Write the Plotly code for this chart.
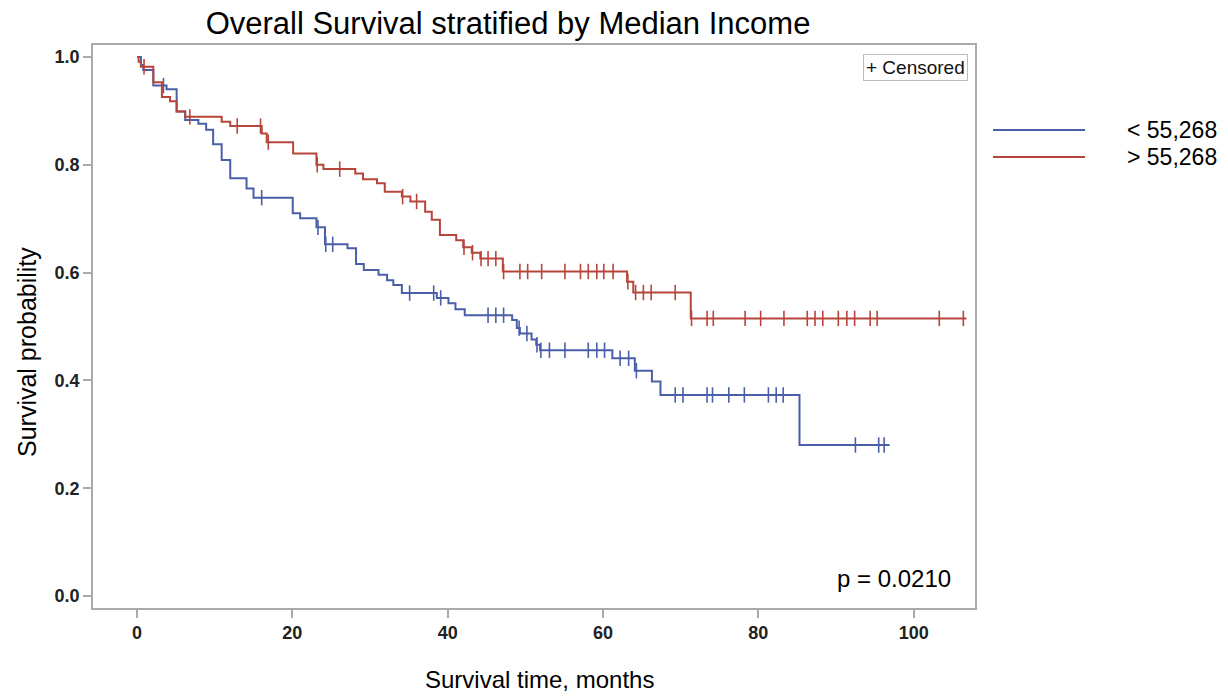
import numpy as np
import plotly.graph_objects as go

# ---- data ----
low_times = [0, 0.5, 0.8, 2.1, 3.8, 5.1, 6.2, 7.9, 8.9, 9.8, 10.9, 12.0, 14.1, 15.0,
             20.05, 21.0, 23.1, 24.2, 27.1, 28.2, 29.2, 31.1, 32.2, 33.0, 34.1, 38.6,
             40.1, 41.0, 42.2, 48.3, 48.9, 49.3, 50.8, 51.4, 51.9, 61.2, 64.1, 66.3,
             67.4, 85.3]
low_surv = [1.0, 0.985, 0.976, 0.947, 0.94, 0.899, 0.883, 0.876, 0.865, 0.838, 0.809,
            0.775, 0.756, 0.739, 0.71, 0.701, 0.684, 0.6525, 0.645, 0.616, 0.605, 0.596,
            0.586, 0.577, 0.562, 0.553, 0.543, 0.532, 0.521, 0.512, 0.497, 0.487, 0.476,
            0.466, 0.456, 0.441, 0.418, 0.398, 0.373, 0.28]
low_end = 96.9
low_censored = [3.4, 16.05, 23.3, 24.3, 25.2, 35.1, 38.2, 39.1, 45.2, 46.2, 47.2, 49.2,
                50.2, 51.5, 52.0, 53.1, 55.1, 58.1, 59.2, 60.2, 62.2, 63.3, 64.3, 69.3,
                70.3, 73.4, 74.1, 76.2, 78.2, 81.3, 82.3, 83.2, 92.5, 95.5, 96.2]

high_times = [0, 0.2, 0.5, 2.1, 3.2, 4.25, 5.1, 6.2, 10.9, 12.0, 16.06, 16.7, 20.1, 23.1,
              24.0, 28.1, 29.1, 30.9, 31.9, 34.1, 35.2, 37.1, 37.95, 39.0, 41.1, 42.0,
              43.1, 44.2, 47.1, 63.1, 63.9, 71.3]
high_surv = [1.0, 0.991, 0.982, 0.953, 0.926, 0.918, 0.899, 0.889, 0.88, 0.872, 0.858,
             0.842, 0.821, 0.80, 0.792, 0.784, 0.773, 0.766, 0.75, 0.741, 0.732, 0.713,
             0.698, 0.67, 0.66, 0.647, 0.637, 0.626, 0.602, 0.583, 0.563, 0.515]
high_end = 106.8
high_censored = [0.9, 6.8, 12.9, 15.9, 16.9, 23.2, 26.1, 34.2, 36.0, 42.1, 43.2, 44.3,
                 45.2, 46.2, 47.2, 49.3, 50.3, 52.1, 55.1, 57.1, 58.1, 59.2, 60.1, 61.3,
                 63.2, 64.2, 65.2, 66.2, 69.3, 71.4, 73.4, 74.2, 78.3, 80.3, 83.3, 86.3,
                 87.3, 88.3, 90.3, 91.4, 92.4, 94.4, 95.3, 103.3, 106.4]

group_labels = ["< 55,268", "> 55,268"]
colors = ["#4B5EA8", "#B8453B"]
x_ticks = [0, 20, 40, 60, 80, 100]
y_ticks = [0.0, 0.2, 0.4, 0.6, 0.8, 1.0]


def step_at(times, surv, t):
    idx = np.searchsorted(np.asarray(times), np.asarray(t), side="right") - 1
    return np.asarray(surv)[idx]


fig = go.Figure()
series = [(low_times, low_surv, low_end, low_censored),
          (high_times, high_surv, high_end, high_censored)]
for (times, surv, end, cens), lab, col in zip(series, group_labels, colors):
    xs = list(times) + [end]
    ys = list(surv) + [surv[-1]]
    fig.add_trace(go.Scatter(x=xs, y=ys, mode="lines", line=dict(color=col, width=2, shape="hv"),
                             name=lab, showlegend=False, hoverinfo="skip"))
    fig.add_trace(go.Scatter(x=cens, y=step_at(times, surv, cens), mode="markers",
                             marker=dict(symbol="line-ns", size=11,
                                         line=dict(color=col, width=1.6)),
                             showlegend=False, hoverinfo="skip"))

# the page's body margin is removed (post_script), so the figure fills the window
W, H = 1228, 698
L, T = 93, 45
R = W - 975
B = H - 608
pw, ph = W - L - R, H - T - B


def px2paper(x, y):
    return (x - L) / pw, (H - B - y) / ph


shapes = []
annotations = []
for i, (lab, col) in enumerate(zip(group_labels, colors)):
    ypx = 130 + 27 * i
    x0, y0 = px2paper(993, ypx)
    x1, _ = px2paper(1085, ypx)
    shapes.append(dict(type="line", xref="paper", yref="paper", x0=x0, x1=x1, y0=y0, y1=y0,
                       line=dict(color=col, width=2)))
    tx, _ = px2paper(1125, ypx)
    annotations.append(dict(text=lab, xref="paper", yref="paper", x=tx, y=y0,
                            xanchor="left", yanchor="middle", showarrow=False,
                            font=dict(size=23, color="#000")))

cx, cy = px2paper(968, 54)
annotations.append(dict(text="+ Censored", xref="paper", yref="paper", x=cx, y=cy,
                        xanchor="right", yanchor="top", showarrow=False,
                        font=dict(size=19, color="#111"), bordercolor="#bbbbbb",
                        borderwidth=1, borderpad=2, bgcolor="white"))
px_, py_ = px2paper(953, 578)
annotations.append(dict(text="p = 0.0210", xref="paper", yref="paper", x=px_, y=py_,
                        xanchor="right", yanchor="middle", showarrow=False,
                        font=dict(size=24, color="#000")))
xt, yt = px2paper(539, 679)
annotations.append(dict(text="Survival time, months", xref="paper", yref="paper", x=xt, y=yt,
                        xanchor="center", yanchor="middle", showarrow=False,
                        font=dict(size=24, color="#000")))
xa, ya = px2paper(27, 352)
annotations.append(dict(text="Survival probability", xref="paper", yref="paper", x=xa, y=ya,
                        xanchor="center", yanchor="middle", showarrow=False, textangle=-90,
                        font=dict(size=25, color="#000")))

axis_common = dict(showline=True, mirror=True, linecolor="#aaaaaa", linewidth=1.5,
                   ticks="outside", ticklen=8, tickwidth=1.5, tickcolor="#aaaaaa",
                   showgrid=False, zeroline=False,
                   tickfont=dict(family="Liberation Sans, Arial, sans-serif", size=18,
                                 color="#222"))

fig.update_layout(
    width=W, height=H,
    margin=dict(l=L, r=R, t=T, b=B),
    paper_bgcolor="white", plot_bgcolor="white",
    font=dict(family="Liberation Sans, Arial, sans-serif", color="#000"),
    title=dict(text="Overall Survival stratified by Median Income", x=508 / W,
               xanchor="center", y=1 - 23 / H, yanchor="middle",
               xref="container", yref="container",
               font=dict(size=31, color="#000")),
    xaxis=dict(range=[-5.67, 107.9], tickvals=x_ticks,
               ticktext=[f"<b>{v}</b>" for v in x_ticks], **axis_common),
    yaxis=dict(range=[-0.0223, 1.0223], tickvals=y_ticks,
               ticktext=[f"<b>{v:.1f}</b>" for v in y_ticks], **axis_common),
    shapes=shapes,
    annotations=annotations,
)

fig.write_html("out.html", config={"displayModeBar": False},
               post_script="document.body.style.margin='0';document.body.style.overflow='hidden';")
